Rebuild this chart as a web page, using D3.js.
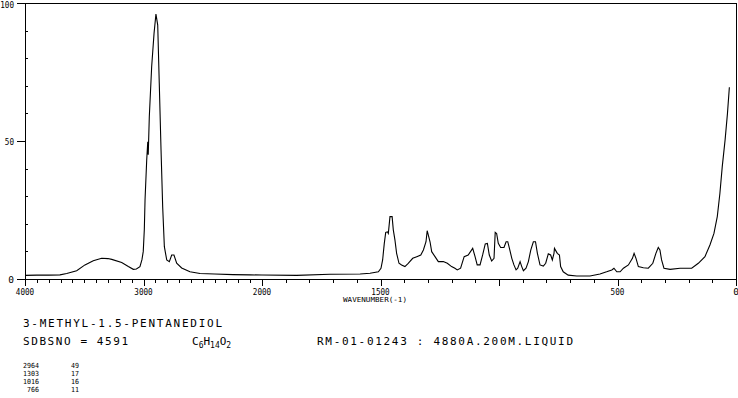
<!DOCTYPE html>
<html>
<head>
<meta charset="utf-8">
<script src="https://cdn.jsdelivr.net/npm/d3@7"></script>
<style>
body { margin: 0; background: #fff; }
text { font-family: "DejaVu Sans Mono", monospace; fill: #000; }
</style>
</head>
<body>
<div class="rep"></div>
<script>
// spectrum (wavenumber, intensity)
var wavenumbers = [4000, 3900, 3800, 3705, 3648, 3564, 3494, 3424, 3353, 3300, 3268, 3184, 3128, 3086, 3060, 3030,
    3013, 3002, 2993, 2987, 2973, 2964, 2960, 2951, 2931, 2911, 2895, 2880, 2867, 2852, 2838, 2824, 2804, 2782,
    2762, 2743, 2720, 2678, 2608, 2523, 2400, 2245, 2101, 2000, 1854, 1713, 1586, 1544, 1509, 1498, 1491, 1484,
    1478, 1471, 1467, 1460, 1451, 1446, 1439, 1432, 1422, 1411, 1397, 1383, 1364, 1347, 1330, 1319, 1308, 1303,
    1291, 1284, 1270, 1256, 1235, 1218, 1200, 1186, 1176, 1162, 1147, 1130, 1111, 1101, 1092, 1080, 1069, 1058,
    1049, 1041, 1031, 1021, 1016, 1010, 1003, 993, 979, 970, 963, 956, 946, 937, 928, 921, 911, 904, 897, 886,
    876, 866, 855, 846, 838, 827, 813, 803, 792, 782, 775, 768, 766, 754, 745, 740, 729, 708, 672, 616, 574, 546,
    524, 515, 503, 489, 475, 454, 437, 430, 422, 412, 391, 370, 351, 338, 328, 321, 314, 304, 278, 236, 187, 159,
    131, 110, 93, 79, 68, 58, 46, 36, 28];
var intensity = [1.3, 1.4, 1.4, 1.5, 2.0, 3.0, 5.1, 6.6, 7.5, 7.4, 7.1, 6.0, 4.5, 3.5, 3.6, 4.5,
    7.0, 10, 18, 28.6, 43, 49.7, 45, 58.8, 77, 89, 96, 92, 71, 46.7, 26, 11.7, 6.9, 6.3,
    8.7, 8.7, 5.7, 4.0, 2.6, 2.0, 1.8, 1.6, 1.5, 1.45, 1.3, 1.7, 1.8, 2.1, 2.6, 3.9, 6.9, 12.9,
    16.9, 17.1, 16.5, 22.6, 22.6, 17.8, 14.1, 9.3, 5.7, 5.1, 4.5, 5.7, 7.5, 8.1, 8.7, 10.5, 13.5, 17.5,
    13.5, 9.9, 8.1, 6.3, 6.3, 5.7, 4.5, 3.9, 3.3, 3.9, 8.1, 8.7, 11.1, 8.1, 5.1, 5.1, 8.7, 12.7,
    12.9, 8.7, 6.5, 7.5, 16.9, 16.5, 12.9, 11.4, 11.4, 13.5, 13.5, 11.1, 7.5, 5.1, 3.3, 3.9, 6.3, 4.5, 3.0, 3.9,
    6.3, 10.5, 13.5, 13.5, 9.3, 5.1, 4.7, 5.7, 9.1, 8.7, 6.9, 9.3, 11.1, 9.3, 8.7, 4.5, 2.6, 1.4, 1.1, 1.1, 1.8, 2.6,
    3.3, 3.9, 2.6, 2.6, 3.9, 5.1, 7.5, 9.3, 7.5, 4.5, 4.1, 3.9, 5.7, 9.3, 11.4, 10.5, 6.9, 3.9, 3.5, 3.9, 3.9, 5.7,
    8.1, 12.3, 16.5, 22.6, 31, 40.7, 50.4, 60, 69.5];

var xLabels = [4000, 3000, 2000, 1500, 500, 0];
var yLabels = [0, 50, 100];

var compoundName = "3-METHYL-1.5-PENTANEDIOL";
var sdbsLine = "SDBSNO = 4591";
var formula = [["C", 0], ["6", 1], ["H", 0], ["14", 1], ["O", 0], ["2", 1]];
var conditions = "RM-01-01243 : 4880A.200M.LIQUID";
var peakWn = ["2964", "1303", "1016", "766"];
var peakInt = ["49", "17", "16", "11"];

var s = d3.select(".rep").append("svg")
    .attr("width", 738)
    .attr("height", 398);

// axis is split: 4000-2000 squeezed, 2000-0 stretched
var x = d3.scaleLinear().domain([4000, 2000, 0]).range([25, 262, 736]);
var y = d3.scaleLinear().domain([0, 100]).range([279, 3]);

// frame
s.append("rect")
    .attr("x", x(4000) + 0.5)
    .attr("y", y(100) + 0.5)
    .attr("width", x(0) - x(4000))
    .attr("height", y(0) - y(100))
    .style("fill", "none")
    .style("stroke", "black")
    .style("stroke-width", "1px")
    .attr("shape-rendering", "crispEdges");

// x ticks every 100
for (k = 0; k <= 4000; k += 100) {
    var major = (k % 1000 == 0) || k == 1500 || k == 500;
    s.append("line")
        .attr("x1", Math.round(x(k)) + 0.5)
        .attr("x2", Math.round(x(k)) + 0.5)
        .attr("y1", y(0))
        .attr("y2", y(0) + (major ? 7 : 4))
        .style("stroke", "black")
        .attr("shape-rendering", "crispEdges");
}
xLabels.forEach(function (d) {
    var t = s.append("text")
        .attr("x", x(d))
        .attr("y", 295)
        .attr("text-anchor", "middle")
        .style("font-size", "9.5px")
        .text(d);
    if (String(d).length > 1) {
        t.attr("textLength", String(d).length * 4.6).attr("lengthAdjust", "spacingAndGlyphs");
    }
});
s.append("text")
    .attr("x", 375)
    .attr("y", 302)
    .attr("text-anchor", "middle")
    .attr("textLength", 64)
    .attr("lengthAdjust", "spacingAndGlyphs")
    .style("font-size", "7px")
    .text("WAVENUMBER(-1)");

// y ticks
for (k = 0; k <= 100; k += 10) {
    var big = (k % 50 == 0);
    s.append("line")
        .attr("x1", big ? 17 : x(4000))
        .attr("x2", big ? x(4000) : x(4000) + 3)
        .attr("y1", Math.round(y(k)) + 0.5)
        .attr("y2", Math.round(y(k)) + 0.5)
        .style("stroke", "black")
        .attr("shape-rendering", "crispEdges");
}
yLabels.forEach(function (d) {
    var t = s.append("text")
        .attr("x", 14)
        .attr("y", Math.max(y(d) + 3.5, 8))   // top label kept inside the page
        .attr("text-anchor", "end")
        .style("font-size", "9.5px")
        .text(d);
    if (String(d).length > 1) {
        t.attr("textLength", String(d).length * 4.6).attr("lengthAdjust", "spacingAndGlyphs");
    }
});

// spectrum
var pts = wavenumbers.map(function (w, i) { return [w, intensity[i]]; });
var line = d3.line()
    .x(function (d) { return x(d[0]); })
    .y(function (d) { return y(d[1]); });
s.append("path")
    .attr("d", line(pts))
    .style("fill", "none")
    .style("stroke", "black")
    .style("stroke-width", "1.1px");

// text block under the chart
s.append("text")
    .attr("x", 23).attr("y", 327)
    .attr("textLength", 199).attr("lengthAdjust", "spacing")
    .style("font-size", "11px")
    .text(compoundName);
s.append("text")
    .attr("x", 23).attr("y", 345)
    .attr("textLength", 105).attr("lengthAdjust", "spacing")
    .style("font-size", "11px")
    .text(sdbsLine);

var f = s.append("text")
    .attr("x", 192).attr("y", 345)
    .style("font-size", "11px");
formula.forEach(function (p, i) {
    f.append("tspan")
        .attr("dy", p[1] ? 3 : (i == 0 ? 0 : -3))
        .style("font-size", p[1] ? "8px" : "11px")
        .text(p[0]);
});

s.append("text")
    .attr("x", 317).attr("y", 345)
    .attr("textLength", 256).attr("lengthAdjust", "spacing")
    .style("font-size", "11px")
    .text(conditions);

for (j = 0; j < peakWn.length; j++) {
    s.append("text")
        .attr("x", 39).attr("y", 368 + j * 8)
        .attr("text-anchor", "end")
        .attr("textLength", peakWn[j].length * 4)
        .attr("lengthAdjust", "spacingAndGlyphs")
        .style("font-size", "7px")
        .text(peakWn[j]);
    s.append("text")
        .attr("x", 79).attr("y", 368 + j * 8)
        .attr("text-anchor", "end")
        .attr("textLength", peakInt[j].length * 4)
        .attr("lengthAdjust", "spacingAndGlyphs")
        .style("font-size", "7px")
        .text(peakInt[j]);
}
</script>
</body>
</html>
